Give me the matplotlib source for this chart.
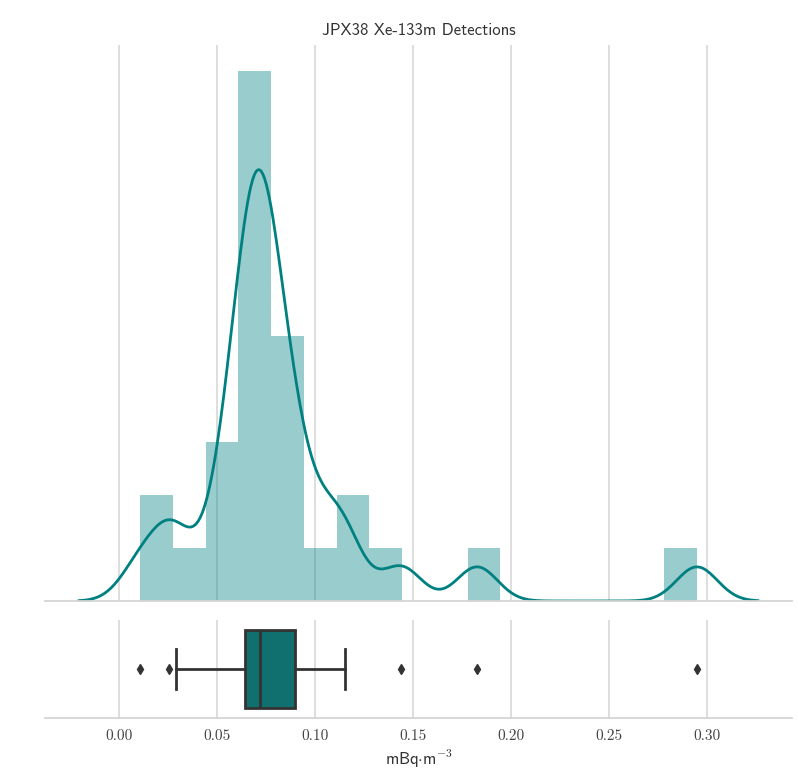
import numpy as np
import matplotlib
matplotlib.use("Agg")
import matplotlib.pyplot as plt

# Xe-133m activity concentrations (mBq/m^3) measured at JPX38
detections = np.array([
    0.0107, 0.0255, 0.0291,
    0.0500, 0.0560, 0.0592,
    0.0632, 0.0654, 0.0675, 0.0693, 0.0703, 0.0710, 0.0715, 0.0719, 0.0730, 0.0748,
    0.0785, 0.0812, 0.0850, 0.0890, 0.0906,
    0.1010,
    0.1120, 0.1153,
    0.1439,
    0.1827,
    0.2949,
])
n_bins = 17
tick_values = [0.00, 0.05, 0.10, 0.15, 0.20, 0.25, 0.30]
tick_labels = ["0.00", "0.05", "0.10", "0.15", "0.20", "0.25", "0.30"]

title = "JPX38 Xe-133m Detections"
xlabel = r"$\mathsf{mBq{\cdot}m^{-3}}$"

base = "#008080"
box_fill = "#107070"
line_dark = "#333333"
grid_col = "#d4d4d4"

plt.rcParams["mathtext.fontset"] = "cm"
plt.rcParams["axes.unicode_minus"] = False

# Gaussian KDE, Scott's rule with robust spread, cut = 3 bandwidths
n = detections.size
q1, q3 = np.percentile(detections, [25, 75])
spread = min(detections.std(ddof=1), (q3 - q1) / 1.349)
bw = 1.059 * spread * n ** (-0.2)
grid = np.linspace(detections.min() - 3 * bw, detections.max() + 3 * bw, 400)
dens = np.exp(-0.5 * ((grid[:, None] - detections[None, :]) / bw) ** 2).sum(axis=1)
dens /= n * bw * np.sqrt(2 * np.pi)

fig = plt.figure(figsize=(7.98, 7.72), dpi=100)
ax = fig.add_axes([0.0564, 0.2215, 0.9361, 0.7202])
axb = fig.add_axes([0.0564, 0.0699, 0.9361, 0.1270], sharex=ax)

for a in (ax, axb):
    a.set_axisbelow(True)
    a.grid(True, axis="x", color=grid_col, linewidth=1.1)
    a.grid(False, axis="y")
    for s in ("left", "right", "top"):
        a.spines[s].set_visible(False)
    a.spines["bottom"].set_color(grid_col)
    a.spines["bottom"].set_linewidth(1.3)
    a.tick_params(axis="both", length=0)
    a.set_yticks([])
    a.set_facecolor("white")

ax.hist(detections, bins=n_bins, density=True, color=base, alpha=0.4,
        edgecolor="none", linewidth=0)
ax.plot(grid, dens, color=base, linewidth=2.0)
ax.set_ylim(0, None)
ax.tick_params(axis="x", labelbottom=False)
ax.set_title(title, family="cmss10", fontsize=12, color="#333333", pad=7)

axb.boxplot(detections, vert=False, positions=[0], widths=0.8,
            patch_artist=True, whis=1.5,
            boxprops=dict(facecolor=box_fill, edgecolor=line_dark, linewidth=2),
            medianprops=dict(color=line_dark, linewidth=2),
            whiskerprops=dict(color=line_dark, linewidth=2),
            capprops=dict(color=line_dark, linewidth=2),
            flierprops=dict(marker="d", markerfacecolor=line_dark,
                            markeredgecolor=line_dark, markersize=5))
axb.set_ylim(0.5, -0.5)
axb.set_yticks([])

span = 0.0378
axb.set_xlim(-span, 0.3434)
axb.set_xticks(tick_values)
axb.set_xticklabels(tick_labels, family="cmr10", fontsize=11, color="#444444")
axb.tick_params(axis="x", pad=8)
axb.set_xlabel(xlabel, fontsize=12, color="#333333", labelpad=4)

fig.savefig("out.png", dpi=100, facecolor="white")
